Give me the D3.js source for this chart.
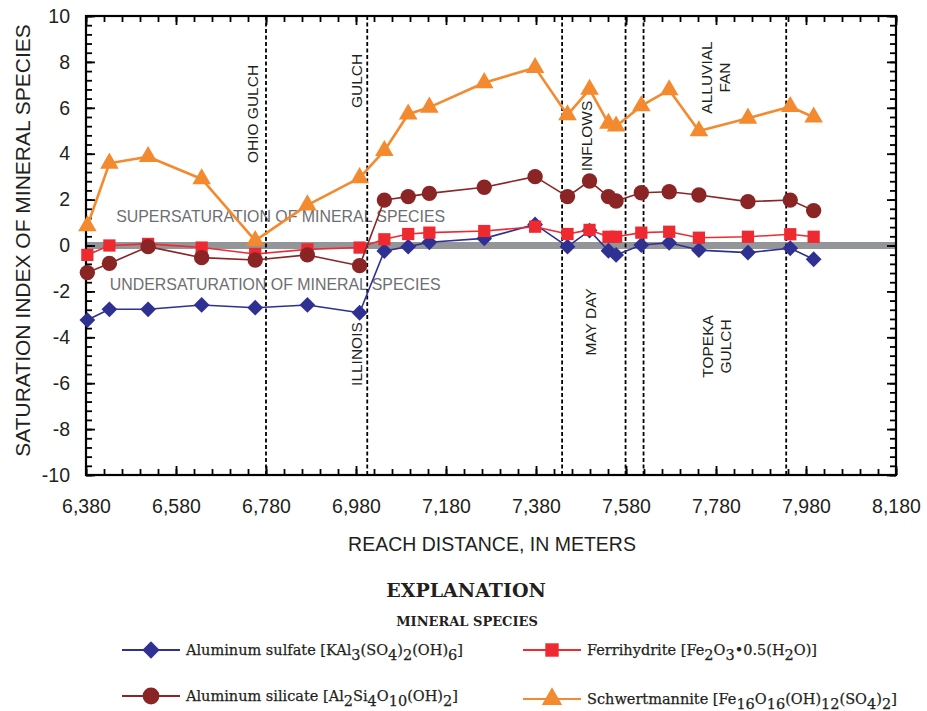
<!DOCTYPE html>
<html><head><meta charset="utf-8">
<script src="https://cdn.jsdelivr.net/npm/d3@7"></script>
<style>body{margin:0;background:#fff}svg{display:block}</style>
</head><body>
<script>
// ---- data ----
const distance = [6383, 6432, 6518, 6637, 6756, 6872, 6988, 7043, 7096, 7143, 7265, 7378, 7450, 7499, 7541, 7558, 7614, 7676, 7742, 7851, 7945, 7997];
const aluminumSulfate = [-3.25, -2.78, -2.78, -2.59, -2.71, -2.59, -2.93, -0.24, -0.05, 0.14, 0.31, 0.92, -0.05, 0.65, -0.23, -0.41, 0.02, 0.12, -0.2, -0.31, -0.12, -0.6];
const aluminumSilicate = [-1.18, -0.78, -0.05, -0.53, -0.63, -0.41, -0.88, 1.98, 2.13, 2.27, 2.54, 3.0, 2.13, 2.81, 2.13, 1.94, 2.3, 2.34, 2.2, 1.91, 1.98, 1.52];
const ferrihydrite = [-0.41, 0.0, 0.07, -0.09, -0.37, -0.17, -0.09, 0.27, 0.5, 0.56, 0.63, 0.82, 0.5, 0.68, 0.38, 0.38, 0.56, 0.6, 0.34, 0.38, 0.49, 0.38];
const schwertmannite = [0.85, 3.58, 3.87, 2.9, 0.21, 1.76, 2.95, 4.13, 5.72, 6.02, 7.09, 7.75, 5.69, 6.8, 5.32, 5.2, 6.08, 6.78, 4.99, 5.54, 6.05, 5.59];
const xTicks = [6380, 6580, 6780, 6980, 7180, 7380, 7580, 7780, 7980, 8180];
const yTicks = [-10, -8, -6, -4, -2, 0, 2, 4, 6, 8, 10];
const tributaryDistances = [6780, 7005, 7438, 7579, 7619, 7936];
const tributaryLabels = [
  {lines: ["OHIO GULCH"], x: 6749, y: 5.73},
  {lines: ["GULCH"], x: 6982, y: 7.17},
  {lines: ["ILLINOIS"], x: 6982, y: -4.73},
  {lines: ["INFLOWS"], x: 7493, y: 4.77},
  {lines: ["MAY DAY"], x: 7500, y: -3.33},
  {lines: ["ALLUVIAL", "FAN"], x: 7778, y: 7.32},
  {lines: ["TOPEKA", "GULCH"], x: 7782, y: -4.4}
];
const zoneLabels = [
  {text: "SUPERSATURATION OF MINERAL SPECIES", x: 6447, y: 1.29},
  {text: "UNDERSATURATION OF MINERAL SPECIES", x: 6433, y: -1.68}
];
const seriesNames = ["Aluminum sulfate", "Ferrihydrite", "Aluminum silicate", "Schwertmannite"];
const legendLabels = {
  "Aluminum sulfate": [["Aluminum sulfate [KAl",0],["3",1],["(SO",0],["4",1],[")",0],["2",1],["(OH)",0],["6",1],["]",0]],
  "Aluminum silicate": [["Aluminum silicate [Al",0],["2",1],["Si",0],["4",1],["O",0],["10",1],["(OH)",0],["2",1],["]",0]],
  "Ferrihydrite": [["Ferrihydrite [Fe",0],["2",1],["O",0],["3",1],["\u2022",0],["0.5(H",0],["2",1],["O)]",0]],
  "Schwertmannite": [["Schwertmannite [Fe",0],["16",1],["O",0],["16",1],["(OH)",0],["12",1],["(SO",0],["4",1],[")",0],["2",1],["]",0]]
};

// ---- styles ----
const seriesValues = {
  "Aluminum sulfate": aluminumSulfate,
  "Ferrihydrite": ferrihydrite,
  "Aluminum silicate": aluminumSilicate,
  "Schwertmannite": schwertmannite
};
const style = {
  "Aluminum sulfate": {color: "#2e3192", width: 1.6, shape: d3.symbolSquare, size: 125, rot: 45},
  "Ferrihydrite": {color: "#ee2a30", width: 1.6, shape: d3.symbolSquare, size: 150, rot: 0},
  "Aluminum silicate": {color: "#8b2525", width: 1.6, shape: d3.symbolCircle, size: 185, rot: 0},
  "Schwertmannite": {color: "#f48a2f", width: 2.6, shape: d3.symbolTriangle, size: 150, rot: 0}
};

const W = 927, H = 711;
const mL = 86, mR = 896, mT = 16, mB = 475;
const sans = "'Liberation Sans', Arial, Helvetica, sans-serif";
const serif = "'DejaVu Serif', 'Liberation Serif', serif";

const svg = d3.select("body").append("svg").attr("width", W).attr("height", H);
const x = d3.scaleLinear().domain([6380, 8180]).range([mL, mR]);
const y = d3.scaleLinear().domain([-10, 10]).range([mB, mT]);

// zone labels
svg.append("g").selectAll("text").data(zoneLabels).join("text")
  .attr("x", d => x(d.x)).attr("y", d => y(d.y)).attr("dy", "0.36em")
  .attr("font-family", sans).attr("font-size", 15.9).attr("fill", "#6d6e71")
  .text(d => d.text);

// zero band
svg.append("line").attr("x1", x(6380)).attr("x2", x(8180)).attr("y1", y(0)).attr("y2", y(0))
  .attr("stroke", "#939598").attr("stroke-width", 7);

// tributary dashed lines
svg.append("g").selectAll("line").data(tributaryDistances).join("line")
  .attr("x1", d => x(d)).attr("x2", d => x(d)).attr("y1", y(10)).attr("y2", y(-10))
  .attr("stroke", "#000").attr("stroke-width", 1.8).attr("stroke-dasharray", "4,2.5");

// tributary labels
tributaryLabels.forEach(lab => {
  const cx = x(lab.x), cy = y(lab.y);
  const n = lab.lines.length;
  const g = svg.append("g").attr("transform", `translate(${cx},${cy}) rotate(-90)`);
  lab.lines.forEach((t, i) => {
    g.append("text").attr("x", 0).attr("y", (i - (n - 1) / 2) * 18).attr("dy", "0.36em")
      .attr("text-anchor", "middle").attr("font-family", sans).attr("font-size", 15.5)
      .attr("fill", "#231f20").text(t);
  });
});

// axes
const axisStyle = g => {
  g.select(".domain").remove();
  g.selectAll("line").attr("stroke", "#000").attr("stroke-width", 1.8);
  g.selectAll("text").remove();
};
const xMinor = d3.range(6380, 8181, 40);
const yMinor = d3.range(-10, 10.01, 0.4).map(v => +v.toFixed(1));
svg.append("g").attr("transform", `translate(0,${mB})`)
  .call(d3.axisBottom(x).tickValues(xMinor).tickSize(-6)).call(axisStyle);
svg.append("g").attr("transform", `translate(0,${mB})`)
  .call(d3.axisBottom(x).tickValues(xTicks).tickSize(-9)).call(axisStyle);
svg.append("g").attr("transform", `translate(0,${mT})`)
  .call(d3.axisTop(x).tickValues(xMinor).tickSize(-6)).call(axisStyle);
svg.append("g").attr("transform", `translate(0,${mT})`)
  .call(d3.axisTop(x).tickValues(xTicks).tickSize(-9)).call(axisStyle);
svg.append("g").attr("transform", `translate(${mL},0)`)
  .call(d3.axisLeft(y).tickValues(yMinor).tickSize(-6)).call(axisStyle);
svg.append("g").attr("transform", `translate(${mL},0)`)
  .call(d3.axisLeft(y).tickValues(yTicks).tickSize(-9)).call(axisStyle);
svg.append("g").attr("transform", `translate(${mR},0)`)
  .call(d3.axisRight(y).tickValues(yMinor).tickSize(-6)).call(axisStyle);
svg.append("g").attr("transform", `translate(${mR},0)`)
  .call(d3.axisRight(y).tickValues(yTicks).tickSize(-9)).call(axisStyle);

// tick labels via axes
svg.append("g").attr("transform", `translate(0,${mB})`)
  .call(d3.axisBottom(x).tickValues(xTicks).tickSize(0).tickPadding(38).tickFormat(d3.format(",")))
  .call(g => g.select(".domain").remove())
  .call(g => g.selectAll("text").attr("font-family", sans).attr("font-size", 19.5).attr("fill", "#231f20").attr("dy", "0"));
svg.append("g").attr("transform", `translate(${mL},0)`)
  .call(d3.axisLeft(y).tickValues(yTicks).tickSize(0).tickPadding(16).tickFormat(d => d < 0 ? "-" + Math.abs(d) : d))
  .call(g => g.select(".domain").remove())
  .call(g => g.selectAll("text").attr("font-family", sans).attr("font-size", 19.5).attr("fill", "#231f20"));

// frame
svg.append("rect").attr("x", mL).attr("y", mT).attr("width", mR - mL).attr("height", mB - mT)
  .attr("fill", "none").attr("stroke", "#000").attr("stroke-width", 2.2);

// series
const line = d3.line().x(d => x(d[0])).y(d => y(d[1]));
seriesNames.forEach(name => {
  const st = style[name];
  const pts = distance.map((d, i) => [d, seriesValues[name][i]]);
  const g = svg.append("g");
  g.append("path").datum(pts).attr("d", line).attr("fill", "none")
    .attr("stroke", st.color).attr("stroke-width", st.width).attr("stroke-linejoin", "round");
  g.selectAll("path.m").data(pts).join("path").attr("class", "m")
    .attr("transform", d => `translate(${x(d[0])},${y(d[1])}) rotate(${st.rot})`)
    .attr("d", d3.symbol(st.shape, st.size)).attr("fill", st.color);
});

// axis titles
svg.append("text").attr("x", (mL + mR) / 2 + 1).attr("y", 551).attr("text-anchor", "middle")
  .attr("font-family", sans).attr("font-size", 19.5).attr("fill", "#231f20").text("REACH DISTANCE, IN METERS");
svg.append("text").attr("transform", `translate(22,${(mT + mB) / 2 - 5}) rotate(-90)`).attr("dy", "0.36em")
  .attr("text-anchor", "middle").attr("font-family", sans).attr("font-size", 21).attr("fill", "#231f20")
  .text("SATURATION INDEX OF MINERAL SPECIES");

// legend
svg.append("text").attr("x", 466).attr("y", 597).attr("text-anchor", "middle")
  .attr("font-family", serif).attr("font-weight", "bold").attr("font-size", 19).attr("fill", "#231f20").text("EXPLANATION");
svg.append("text").attr("x", 467).attr("y", 626).attr("text-anchor", "middle")
  .attr("font-family", serif).attr("font-weight", "bold").attr("font-size", 13).attr("fill", "#231f20").text("MINERAL SPECIES");

const legendPos = {
  "Aluminum sulfate": [122, 650],
  "Aluminum silicate": [122, 696],
  "Ferrihydrite": [523, 650],
  "Schwertmannite": [523, 699]
};
Object.keys(legendPos).forEach(name => {
  const [lx, ly] = legendPos[name];
  const st = style[name];
  const g = svg.append("g").attr("transform", `translate(${lx},${ly})`);
  g.append("line").attr("x1", 0).attr("x2", 58).attr("stroke", st.color).attr("stroke-width", 1.8);
  g.append("path").attr("transform", `translate(29,0) rotate(${st.rot})`).attr("d", d3.symbol(st.shape, st.size * 1.2)).attr("fill", st.color);
  const t = g.append("text").attr("x", 64).attr("y", 5).attr("font-family", serif).attr("font-size", 14.5)
    .attr("fill", "#231f20").attr("stroke", "#231f20").attr("stroke-width", 0.25);
  let shifted = false;
  legendLabels[name].forEach(([s, sub]) => {
    const ts = t.append("tspan").text(s);
    if (sub && !shifted) { ts.attr("dy", 5); shifted = true; }
    else if (!sub && shifted) { ts.attr("dy", -5); shifted = false; }
  });
});
</script>
</body></html>
